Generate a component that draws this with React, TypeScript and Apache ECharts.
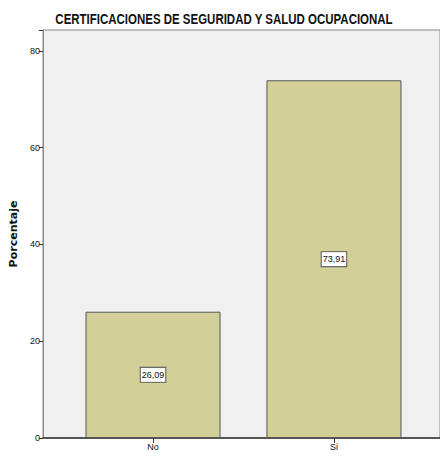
import React, { useEffect, useRef } from "react";
import * as echarts from "echarts";

const categories = ["No", "Si"];
const values = [26.09, 73.91];
const yTicks = [0, 20, 40, 60, 80];
const titleText = "CERTIFICACIONES DE SEGURIDAD Y SALUD OCUPACIONAL";

const FONT = "'Liberation Sans', Arial, sans-serif";

export default function App() {
  const ref = useRef<HTMLDivElement>(null);
  useEffect(() => {
    if (!ref.current) return;
    const chart = echarts.init(ref.current, null, { renderer: "svg" });
    chart.setOption({
      animation: false,
      backgroundColor: "#ffffff",
      graphic: [
        {
          type: "text",
          x: 224,
          y: 19,
          scaleX: 0.82,
          style: {
            text: titleText,
            fontFamily: FONT,
            fontSize: 14,
            fontWeight: "bold",
            fill: "#111",
            textAlign: "center",
            textVerticalAlign: "middle",
          },
        },
      ],
      grid: {
        left: 43,
        top: 30,
        right: 0,
        bottom: 19,
        show: true,
        backgroundColor: "#f0f0f0",
        borderColor: "#8a8a8a",
        borderWidth: 1,
      },
      xAxis: {
        type: "value",
        min: -0.608,
        max: 1.586,
        splitLine: { show: false },
        axisLine: { show: true, lineStyle: { color: "#333", width: 1.5 } },
        axisTick: { show: true, customValues: [0, 1], length: 5, lineStyle: { color: "#333" } },
        axisLabel: {
          customValues: [0, 1],
          formatter: (v: number) => categories[Math.round(v)] ?? "",
          fontFamily: FONT,
          fontSize: 9,
          color: "#111",
          margin: 4,
        },
      },
      yAxis: {
        type: "value",
        min: 0,
        max: 84.3,
        interval: 20,
        name: "Porcentaje",
        nameLocation: "middle",
        nameGap: 16,
        nameRotate: 90,
        nameTextStyle: { fontFamily: "'DejaVu Sans', sans-serif", fontSize: 11, fontWeight: "bold", color: "#111" },
        splitLine: { show: false },
        axisLine: { show: true, onZero: false, lineStyle: { color: "#8a8a8a", width: 1 } },
        axisTick: { show: true, length: 4, lineStyle: { color: "#333" } },
        axisLabel: {
          fontFamily: FONT,
          fontSize: 9,
          color: "#111",
          margin: 3,
          formatter: (v: number) => (yTicks.includes(v) ? String(v) : ""),
        },
      },
      series: [
        {
          type: "bar",
          data: values.map((v, i) => [i, v]),
          barWidth: 135,
          itemStyle: { color: "#d3cf98", borderColor: "#555", borderWidth: 1 },
          label: {
            show: true,
            position: "inside",
            formatter: (p: any) => p.value[1].toFixed(2).replace(".", ","),
            fontFamily: FONT,
            fontSize: 9,
            color: "#111",
            backgroundColor: "#ffffff",
            borderColor: "#555",
            borderWidth: 1,
            padding: [3, 1, 2, 1],
          },
        },
      ],
    });
    return () => chart.dispose();
  }, []);
  return (
    <div
      ref={ref}
      style={{ position: "fixed", left: 0, top: 0, width: 440, height: 457 }}
    />
  );
}
